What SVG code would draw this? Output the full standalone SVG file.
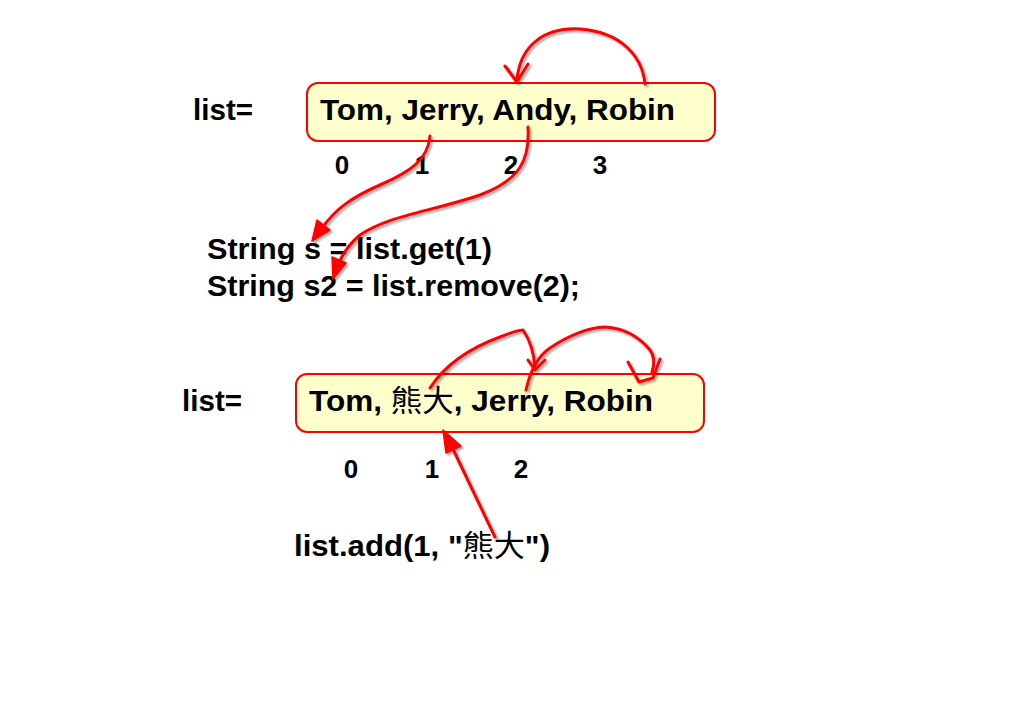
<svg xmlns="http://www.w3.org/2000/svg" width="1024" height="728" viewBox="0 0 1024 728">
<defs>
<style>
.t{font-family:"Liberation Sans",Arial,"Noto Sans CJK TC",sans-serif;font-weight:bold;fill:#000}
.big{font-size:30px}
.num{font-size:26px;text-anchor:middle}
.cjk{font-family:"Noto Sans CJK TC","Noto Sans CJK SC",sans-serif;font-weight:normal}
.box{fill:#ffffcc;stroke:#ff0000;stroke-width:2}
.arr{fill:none;stroke:#ff0000;stroke-width:3;stroke-linecap:round;stroke-linejoin:round}
.head{fill:#ff0000;stroke:#ff0000;stroke-width:1.5;stroke-linejoin:round}
</style>
<filter id="sh" x="-10%" y="-10%" width="120%" height="120%">
<feDropShadow dx="2" dy="2" stdDeviation="1" flood-color="#000" flood-opacity="0.35"/>
</filter>
</defs>
<rect width="1024" height="728" fill="#fff"/>

<g id="top-list">
<text class="t big" x="193" y="120" textLength="60" lengthAdjust="spacingAndGlyphs">list=</text>
<rect class="box" x="307" y="83" width="408" height="58" rx="11"/>
<text class="t big" x="320" y="120" textLength="355" lengthAdjust="spacingAndGlyphs">Tom, Jerry, Andy, Robin</text>
</g>
<g id="top-index">
<text class="t num" x="342" y="174">0</text>
<text class="t num" x="422" y="174">1</text>
<text class="t num" x="511" y="174">2</text>
<text class="t num" x="600" y="174">3</text>
</g>
<g id="code">
<text class="t big" x="207" y="259" textLength="285" lengthAdjust="spacingAndGlyphs">String s = list.get(1)</text>
<text class="t big" x="207" y="296" textLength="373" lengthAdjust="spacingAndGlyphs">String s2 = list.remove(2);</text>
</g>
<g id="bottom-list">
<text class="t big" x="182" y="411" textLength="60" lengthAdjust="spacingAndGlyphs">list=</text>
<rect class="box" x="296" y="374" width="408" height="58" rx="11"/>
<text class="t big" x="309" y="411" textLength="344" lengthAdjust="spacingAndGlyphs">Tom, <tspan class="cjk">熊大</tspan>, Jerry, Robin</text>
</g>
<g id="bottom-index">
<text class="t num" x="351" y="478">0</text>
<text class="t num" x="432" y="478">1</text>
<text class="t num" x="521" y="478">2</text>
</g>
<g id="add-call">
<text class="t big" x="294" y="556" textLength="256" lengthAdjust="spacingAndGlyphs">list.add(1, "<tspan class="cjk">熊大</tspan>")</text>
</g>

<g id="connectors" filter="url(#sh)">
<path class="arr" d="M645,84 C642,55 620,32 580,29 C545,27 520,45 517,80"/>
<path class="arr" d="M505,66 L517,82 L528,64"/>

<path class="arr" d="M430,136 C428,160 410,172 380,185 C350,198 335,210 322,228"/>
<path class="head" d="M312,241 L317,220 L330,230 Z"/>

<path class="arr" d="M528,127 C530,160 520,180 480,195 C430,212 390,215 360,235 C348,245 342,255 338,265"/>
<path class="head" d="M333,279 L332,257 L346,263 Z"/>

<path class="arr" d="M430,388 C445,365 470,348 500,337 C510,333 518,330 523,330 C530,340 534,352 535,368"/>
<path class="arr" d="M528,360 L535,370 L545,360"/>

<path class="arr" d="M526,390 C530,372 538,356 550,348 C568,336 585,328 605,327 C625,328 640,338 650,350 C656,358 654,366 652,372"/>
<path class="arr" d="M628,362 L639,382 L653,378 L660,359"/>

<path class="arr" d="M495,537 L452,447"/>
<path class="head" d="M443,430 L461,446 L446,453 Z"/>
</g>
</svg>
